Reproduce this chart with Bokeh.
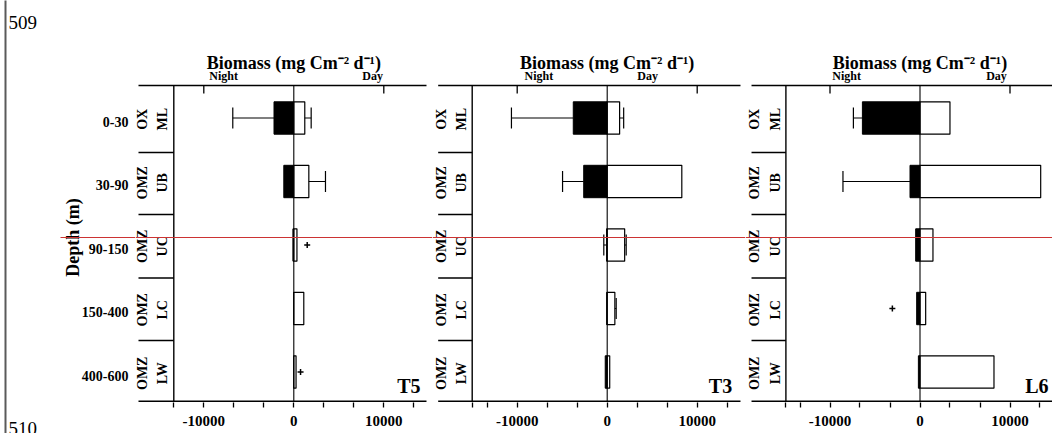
import math
from bokeh.plotting import figure
from bokeh.layouts import row
from bokeh.models import Range1d, FixedTicker
from bokeh.core.properties import value
from bokeh.embed import file_html
from bokeh.resources import INLINE

nan = float("nan")

# ---------------- data ----------------
layers = ["ML", "UB", "UC", "LC", "LW"]
zones = ["OX", "OMZ", "OMZ", "OMZ", "OMZ"]
depth_labels = ["0-30", "30-90", "90-150", "150-400", "400-600"]
stations = ["T5", "T3", "L6"]

night_T5 = [-2200, -1110, -100, 0, 0]
night_err_T5 = [-6780, nan, nan, nan, nan]
day_T5 = [1220, 1670, 350, 1110, 250]
day_err_T5 = [1930, 3520, nan, nan, nan]
plus_T5 = [nan, nan, 1490, nan, 750]

night_T3 = [-3770, -2610, -60, -50, -220]
night_err_T3 = [-10640, -4960, -378, nan, nan]
day_T3 = [1380, 8290, 1940, 850, 280]
day_err_T3 = [1830, nan, 2110, 1000, nan]
plus_T3 = [nan, nan, nan, nan, nan]

night_L6 = [-6400, -1110, -480, -370, -180]
night_err_L6 = [-7400, -8560, nan, nan, nan]
day_L6 = [3330, 13410, 1440, 630, 8220]
day_err_L6 = [nan, nan, nan, nan, nan]
plus_L6 = [nan, nan, nan, -3070, nan]

major_ticks = [-10000, 0, 10000]
minor_ticks_T5 = [-13333, -6667, -3333, 3333, 6667, 13333]
minor_ticks_other = [-15000, -13333, -6667, -3333, 3333, 6667, 13333]
top_ticks = [-10000, 10000]

title_text = "Biomass (mg Cm\u207b\u00b2 d\u207b\u00b9)"

# ---------------- layout constants ----------------
FONT = value("Liberation Serif")
U = 1 / 0.009            # data units per pixel (x)
PXY = 63.5               # pixels per category unit (y)
FRAME_H = 402
BOTTOM = 31
Y_END = 0.5 + 371.5 / PXY
Y_START = Y_END - FRAME_H / PXY
pos = [4.5, 3.5, 2.5, 1.5, 0.5]
BAR_H = 0.51
CAP = 0.165
AX_BOT = Y_END - 400.7 / PXY
AX_TOP = Y_END - 85 / PXY
SEPS = [Y_END - 340 / PXY, Y_END - 277.5 / PXY, Y_END - 214 / PXY, Y_END - 152 / PXY]
RED_Y = Y_END - 237 / PXY

panels = [
    # station, width, page_left, page_zero, axis_left, yaxis_x, axis_right, night_x, day_x, minor, label_right
    ("T5", 297, 135, 293.3, -17256, -13333, 14744, -7800, 8750, minor_ticks_T5, 14078),
    ("T3", 313, 432, 606.7, -18780, -15000, 14810, -7600, 4500, minor_ticks_other, 13889),
    ("L6", 307, 745, 919.5, -18720, -14900, 15500, -8150, 8500, minor_ticks_other, 14278),
]
series = {
    "T5": (night_T5, night_err_T5, day_T5, day_err_T5, plus_T5),
    "T3": (night_T3, night_err_T3, day_T3, day_err_T3, plus_T3),
    "L6": (night_L6, night_err_L6, day_L6, day_err_L6, plus_L6),
}


def base_fig(w, h, xr, yr, bottom):
    p = figure(frame_width=w, frame_height=h, x_range=xr, y_range=yr,
               min_border_left=0, min_border_right=0, min_border_top=0,
               min_border_bottom=bottom, toolbar_location=None,
               output_backend="svg", outline_line_color=None,
               background_fill_color="white", border_fill_color="white")
    p.grid.visible = False
    return p


# ---------------- left strip ----------------
STRIP_W = 135
STRIP_H = FRAME_H + BOTTOM
strip = base_fig(STRIP_W, STRIP_H, Range1d(0, STRIP_W),
                 Range1d(Y_END - STRIP_H / PXY, Y_END), 0)
strip.axis.visible = False
strip.segment(x0=[5], x1=[5], y0=[Y_END - 500 / PXY], y1=[Y_END + 1],
              line_color="#5a5a5a", line_width=2)
strip.text(x=[8, 8], y=[Y_END - 22 / PXY, Y_END - 421 / PXY], text=["509", "510"],
           text_font=FONT, text_font_size="19px", text_align="left",
           text_baseline=["alphabetic", "top"], text_color="black")
strip.text(x=[128] * 5, y=[p_ - 0.06 for p_ in pos], text=depth_labels,
           text_font=FONT, text_font_style="bold", text_font_size="14px",
           text_align="right", text_baseline="middle", text_color="black")
strip.text(x=[72], y=[RED_Y], text=["Depth (m)"], angle=math.pi / 2,
           text_font=FONT, text_font_style="bold", text_font_size="18px",
           text_align="center", text_baseline="middle", text_color="black")
strip.segment(x0=[60], x1=[STRIP_W + 1], y0=[RED_Y], y1=[RED_Y],
              line_color="#cc3333", line_width=1)

figs = [strip]
for (st, w, pleft, pzero, axl, yx, axr, nx, dx, minor, lab_r) in panels:
    xs = (pleft - pzero) * U
    xe = xs + w * U
    p = base_fig(w, FRAME_H, Range1d(xs, xe), Range1d(Y_START, Y_END), BOTTOM)
    p.yaxis.visible = False
    ax = p.xaxis[0]
    ax.ticker = FixedTicker(ticks=major_ticks, minor_ticks=minor)
    ax.axis_line_color = None
    ax.major_tick_in = 0
    ax.major_tick_out = 5
    ax.minor_tick_in = 0
    ax.minor_tick_out = 5
    ax.major_tick_line_color = "black"
    ax.minor_tick_line_color = "black"
    ax.major_tick_line_width = 1.3
    ax.minor_tick_line_width = 1.3
    ax.major_label_standoff = 8
    ax.major_label_text_font = "Liberation Serif"
    ax.major_label_text_font_style = "bold"
    ax.major_label_text_font_size = "15px"
    ax.major_label_text_color = "black"
    ax.major_label_overrides = {-10000: "-10000", 0: "0", 10000: "10000"}

    night, night_err, day, day_err, plus = series[st]

    # bars
    p.hbar(y=pos, left=night, right=[0] * 5, height=BAR_H,
           fill_color="black", line_color="black", line_width=1)
    p.hbar(y=pos, left=[0] * 5, right=day, height=BAR_H,
           fill_color="white", line_color="black", line_width=1.2)

    # error bars (one-sided)
    ex0, ex1, ey = [], [], []
    for vals, errs in ((night, night_err), (day, day_err)):
        for v, e, y in zip(vals, errs, pos):
            if not math.isnan(e):
                ex0.append(v); ex1.append(e); ey.append(y)
    if ex0:
        p.segment(x0=ex0, x1=ex1, y0=ey, y1=ey, line_color="black", line_width=1.2)
        p.segment(x0=ex1, x1=ex1, y0=[y - CAP for y in ey], y1=[y + CAP for y in ey],
                  line_color="black", line_width=1.2)

    # plus marks
    px_, py_ = [], []
    for v, y in zip(plus, pos):
        if not math.isnan(v):
            px_.append(v); py_.append(y)
    if px_:
        p.scatter(x=px_, y=py_, marker="cross", size=6, line_color="black", line_width=1.5)

    # frame lines
    p.segment(x0=[axl, axl], x1=[axr, axr], y0=[AX_BOT, AX_TOP], y1=[AX_BOT, AX_TOP],
              line_color="black", line_width=1.5)
    p.segment(x0=[yx, 0], x1=[yx, 0], y0=[AX_BOT, AX_BOT], y1=[AX_TOP, AX_TOP],
              line_color="black", line_width=[1.4, 1.1])
    p.segment(x0=[axl] * 4, x1=[yx] * 4, y0=SEPS, y1=SEPS, line_color="black", line_width=1.3)
    p.segment(x0=top_ticks, x1=top_ticks, y0=[AX_TOP] * 2, y1=[AX_TOP - 8 / PXY] * 2,
              line_color="black", line_width=1.3)

    # category labels
    p.text(x=[yx - 21 * U] * 5, y=[p_ - 0.02 for p_ in pos],
           text=[z + "\n" + l for z, l in zip(zones, layers)], angle=math.pi / 2,
           text_font=FONT, text_font_style="bold", text_font_size="14px",
           text_align="center", text_baseline="middle", text_line_height=1.35,
           text_color="black")

    # titles
    p.text(x=[0], y=[Y_END - 62 / PXY], text=[title_text], text_font=FONT,
           text_font_style="bold", text_font_size="18px", text_align="center",
           text_baseline="middle", text_color="black")
    p.text(x=[nx, dx], y=[Y_END - 75.5 / PXY] * 2, text=["Night", "Day"], text_font=FONT,
           text_font_style="bold", text_font_size="12px", text_align="center",
           text_baseline="middle", text_color="black")
    p.text(x=[lab_r], y=[Y_END - 385 / PXY], text=[st], text_font=FONT,
           text_font_style="bold", text_font_size="20px", text_align="right",
           text_baseline="middle", text_color="black")

    # red line
    p.segment(x0=[xs], x1=[xe], y0=[RED_Y], y1=[RED_Y], line_color="#cc3333", line_width=1)
    figs.append(p)

layout = row(*figs, spacing=0)
open("out.html", "w").write(file_html(layout, INLINE))
